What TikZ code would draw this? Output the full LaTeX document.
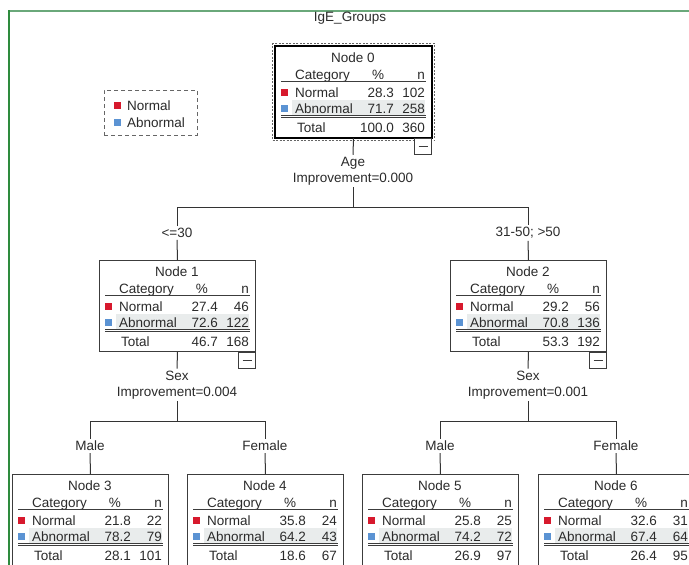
\documentclass[tikz,border=0pt]{standalone}
\usepackage{fontspec}
\setmainfont{Liberation Sans}
\usetikzlibrary{calc}
\definecolor{txt}{HTML}{2B2B2B}
\definecolor{boxc}{HTML}{3C3C3C}
\definecolor{linec}{HTML}{333333}
\definecolor{bandc}{HTML}{E9ECEC}
\definecolor{redc}{HTML}{D7192D}
\definecolor{bluec}{HTML}{5B93D3}
\definecolor{greenA}{HTML}{6AA87A}
\definecolor{greenB}{HTML}{2E8B3E}
\definecolor{selc}{HTML}{666666}
\newcommand{\tf}{\fontsize{13.5pt}{16pt}\selectfont}
\tikzset{
  cell/.style={inner sep=0pt, text=txt, font=\tf},
  nodebox/.style={draw=boxc, line width=1pt, fill=white, anchor=north west,
    minimum width=156pt, minimum height=91pt, inner sep=0pt},
  band/.style={fill=bandc, anchor=north west, minimum width=133pt,
    minimum height=15pt, inner sep=0pt},
  swatch/.style={minimum size=7pt, inner sep=0pt},
  rulel/.style={draw=boxc, line width=0.9pt},
  conn/.style={draw=linec, line width=1pt},
  lbl/.style={inner sep=2pt, text=txt, font=\tf, align=center},
  collapse/.style={draw=boxc, line width=1pt, fill=white, anchor=north east,
    minimum width=17pt, minimum height=16pt, inner sep=0pt,
    path picture={\draw[boxc, line width=1pt]
      ([xshift=-4.5pt]path picture bounding box.center) --
      ([xshift=4.5pt]path picture bounding box.center);}},
  selbox/.style={draw=selc, line width=1pt, dash pattern=on 2pt off 1.5pt,
    minimum width=162pt, minimum height=97pt, inner sep=0pt},
  legbox/.style={draw=selc, line width=1pt, dash pattern=on 4pt off 3pt,
    minimum width=93pt, minimum height=45pt, inner sep=0pt},
}
% #1 number, #2 x, #3 y, #4 p1, #5 n1, #6 p2, #7 n2, #8 pt, #9 nt
\newcommand{\spss}[9]{%
  \node[nodebox] (n#1) at (#2,#3) {};
  \node[band] (n#1b) at ([xshift=17pt,yshift=-54pt]n#1.north west) {};
  \node[cell,anchor=base] (n#1t) at ([xshift=78pt,yshift=-16pt]n#1.north west) {Node #1};
  \node[cell,anchor=base west] (n#1hc) at ([xshift=20pt,yshift=-33pt]n#1.north west) {Category};
  \node[cell,anchor=base] (n#1hp) at ([xshift=103pt,yshift=-33pt]n#1.north west) {\%};
  \node[cell,anchor=base east] (n#1hn) at ([xshift=150pt,yshift=-33pt]n#1.north west) {n};
  \draw[rulel] ([xshift=6pt,yshift=-35.5pt]n#1.north west) -- ([xshift=151pt,yshift=-35.5pt]n#1.north west);
  \node[swatch,fill=redc] (n#1sr) at ([xshift=9.5pt,yshift=-46pt]n#1.north west) {};
  \node[cell,anchor=base west] (n#1r1) at ([xshift=20pt,yshift=-51pt]n#1.north west) {Normal};
  \node[cell,anchor=base east] (n#1r1p) at ([xshift=119pt,yshift=-51pt]n#1.north west) {#4};
  \node[cell,anchor=base east] (n#1r1n) at ([xshift=150pt,yshift=-51pt]n#1.north west) {#5};
  \node[swatch,fill=bluec] (n#1sb) at ([xshift=9.5pt,yshift=-62pt]n#1.north west) {};
  \node[cell,anchor=base west] (n#1r2) at ([xshift=20pt,yshift=-67pt]n#1.north west) {Abnormal};
  \node[cell,anchor=base east] (n#1r2p) at ([xshift=119pt,yshift=-67pt]n#1.north west) {#6};
  \node[cell,anchor=base east] (n#1r2n) at ([xshift=150pt,yshift=-67pt]n#1.north west) {#7};
  \draw[rulel] ([xshift=6pt,yshift=-69pt]n#1.north west) -- ([xshift=151pt,yshift=-69pt]n#1.north west);
  \draw[rulel] ([xshift=6pt,yshift=-71.5pt]n#1.north west) -- ([xshift=151pt,yshift=-71.5pt]n#1.north west);
  \node[cell,anchor=base west] (n#1r3) at ([xshift=22pt,yshift=-86pt]n#1.north west) {Total};
  \node[cell,anchor=base east] (n#1r3p) at ([xshift=119pt,yshift=-86pt]n#1.north west) {#8};
  \node[cell,anchor=base east] (n#1r3n) at ([xshift=150pt,yshift=-86pt]n#1.north west) {#9};
}
\begin{document}
\begin{tikzpicture}[x=1pt,y=-1pt]
\useasboundingbox (0,0) rectangle (689,565);
\fill[white] (0,0) rectangle (689,565);
\clip (0,0) rectangle (689,565);
% frame
\draw[greenA, line width=2pt] (8,11) -- (689,11);
\draw[greenB, line width=2pt] (9,10) -- (9,565);
% title
\node[cell] (title) at (350,18) {IgE\_Groups};
% legend
\node[legbox] (legend) at (150.5,112.5) {};
\node[swatch,fill=redc] (lgr) at (117,105) {};
\node[cell,anchor=base west] (lgrt) at (127,110) {Normal};
\node[swatch,fill=bluec] (lgb) at (117,122) {};
\node[cell,anchor=base west] (lgbt) at (127,127) {Abnormal};
% nodes
\spss{0}{275}{46}{28.3}{102}{71.7}{258}{100.0}{360}
\draw[black, line width=2pt] (n0.north west) rectangle (n0.south east);
\node[selbox] (n0sel) at (n0.center) {};
\spss{1}{99}{260}{27.4}{46}{72.6}{122}{46.7}{168}
\spss{2}{450}{260}{29.2}{56}{70.8}{136}{53.3}{192}
\spss{3}{12}{474}{21.8}{22}{78.2}{79}{28.1}{101}
\spss{4}{187}{474}{35.8}{24}{64.2}{43}{18.6}{67}
\spss{5}{362}{474}{25.8}{25}{74.2}{72}{26.9}{97}
\spss{6}{538}{474}{32.6}{31}{67.4}{64}{26.4}{95}
\node[collapse] (n0c) at (n0.south east) {};
\node[collapse] (n1c) at (n1.south east) {};
\node[collapse] (n2c) at (n2.south east) {};
% level 0 split
\node[lbl] (s0) at (353,171) {Age\\Improvement=0.000};
\coordinate (b0) at (353,207);
\draw[conn] (n0.south) -- (s0.north);
\draw[conn] (s0.south) -- (b0);
\node[lbl] (e1) at (177,233) {<=30};
\node[lbl] (e2) at (528,233) {31-50; >50};
\draw[conn] (e1.north) -- (e1.north |- b0) -- (e2.north |- b0) -- (e2.north);
\draw[conn] (e1.south) -- (n1.north);
\draw[conn] (e2.south) -- (n2.north);
% level 1 splits
\node[lbl] (s1) at (177,385) {Sex\\Improvement=0.004};
\node[lbl] (s2) at (528,385) {Sex\\Improvement=0.001};
\coordinate (b1) at (177,421);
\coordinate (b2) at (528,421);
\draw[conn] (n1.south) -- (s1.north);
\draw[conn] (s1.south) -- (b1);
\draw[conn] (n2.south) -- (s2.north);
\draw[conn] (s2.south) -- (b2);
\node[lbl] (e3) at (90,446) {Male};
\node[lbl] (e4) at (265,446) {Female};
\node[lbl] (e5) at (440,446) {Male};
\node[lbl] (e6) at (616,446) {Female};
\draw[conn] (e3.north) -- (e3.north |- b1) -- (e4.north |- b1) -- (e4.north);
\draw[conn] (e5.north) -- (e5.north |- b2) -- (e6.north |- b2) -- (e6.north);
\draw[conn] (e3.south) -- (n3.north);
\draw[conn] (e4.south) -- (n4.north);
\draw[conn] (e5.south) -- (n5.north);
\draw[conn] (e6.south) -- (n6.north);
\end{tikzpicture}
\end{document}
